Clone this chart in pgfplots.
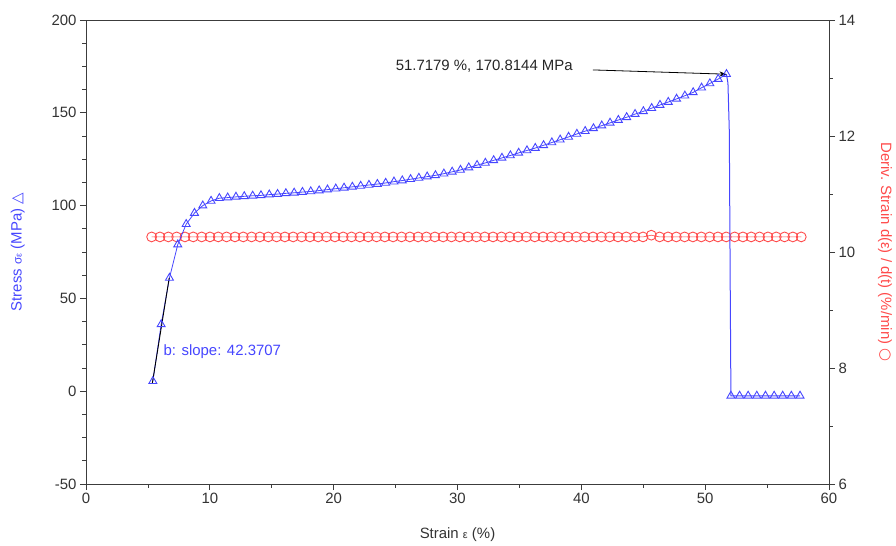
\documentclass[border=0pt]{standalone}
\usepackage{fontspec}
\setmainfont{Liberation Sans}
\newfontfamily\dejavu{DejaVu Sans}
\usepackage{pgfplots}
\usepackage{pgfplotstable}
\usetikzlibrary{arrows.meta}
\pgfplotsset{compat=1.18}
\definecolor{bl}{RGB}{70,70,255}
\definecolor{rd}{RGB}{255,75,75}
\definecolor{tk}{RGB}{51,51,51}
\definecolor{ax}{RGB}{60,60,60}

\pgfplotstableread{
x y
5.40 5.4
6.07 36
6.74 61
7.41 79
8.09 90
8.76 96
9.43 100
10.10 102.5
10.77 104
11.44 104.3
12.11 104.7
12.78 105.0
13.46 105.3
14.13 105.5
14.80 105.9
15.47 106.2
16.14 106.6
16.81 106.9
17.48 107.3
18.15 107.6
18.83 108.1
19.50 108.6
20.17 109.1
20.84 109.6
21.51 110.1
22.18 110.6
22.85 111.1
23.53 111.6
24.20 112.2
24.87 112.9
25.54 113.5
26.21 114.2
26.88 114.9
27.55 115.6
28.22 116.3
28.90 117.2
29.57 118.2
30.24 119.2
30.91 120.5
31.58 121.8
32.25 123.0
32.92 124.4
33.59 125.7
34.27 127.0
34.94 128.4
35.61 129.7
36.28 131.0
36.95 132.5
37.62 134.0
38.29 135.5
38.97 137.0
39.64 138.6
40.31 140.1
40.98 141.6
41.65 143.1
42.32 144.6
42.99 146.1
43.66 147.6
44.34 149.3
45.01 150.8
45.68 152.5
46.35 154.2
47.02 155.8
47.69 157.5
48.36 159.2
49.03 161.0
49.71 163.5
50.38 165.8
51.05 168.2
51.72 170.8
}\stress

\pgfplotstableread{
x y
51.72 170.8
51.84 166
51.95 140
52.02 60
52.08 -2.5
57.66 -2.5
}\drop

\pgfplotstableread{
x y
52.08 -2.5
52.78 -2.5
53.47 -2.5
54.17 -2.5
54.87 -2.5
55.57 -2.5
56.26 -2.5
56.96 -2.5
57.66 -2.5
}\bottom

\pgfplotstableread{
x y
5.30 10.26
5.97 10.26
6.65 10.26
7.32 10.26
7.99 10.26
8.66 10.26
9.34 10.26
10.01 10.26
10.68 10.26
11.35 10.26
12.03 10.26
12.70 10.26
13.37 10.26
14.04 10.26
14.72 10.26
15.39 10.26
16.06 10.26
16.73 10.26
17.41 10.26
18.08 10.26
18.75 10.26
19.42 10.26
20.10 10.26
20.77 10.26
21.44 10.26
22.11 10.26
22.79 10.26
23.46 10.26
24.13 10.26
24.80 10.26
25.48 10.26
26.15 10.26
26.82 10.26
27.49 10.26
28.17 10.26
28.84 10.26
29.51 10.26
30.18 10.26
30.86 10.26
31.53 10.26
32.20 10.26
32.87 10.26
33.55 10.26
34.22 10.26
34.89 10.26
35.56 10.26
36.24 10.26
36.91 10.26
37.58 10.26
38.25 10.26
38.93 10.26
39.60 10.26
40.27 10.26
40.94 10.26
41.62 10.26
42.29 10.26
42.96 10.26
43.63 10.26
44.31 10.26
44.98 10.26
45.65 10.29
46.32 10.26
47.00 10.26
47.67 10.26
48.34 10.26
49.01 10.26
49.69 10.26
50.36 10.26
51.03 10.26
51.70 10.26
52.38 10.26
53.05 10.26
53.72 10.26
54.39 10.26
55.07 10.26
55.74 10.26
56.41 10.26
57.08 10.26
57.76 10.26
}\deriv

\pgfplotsset{
  common/.style={
    at={(0,0)}, anchor=south west,
    scale only axis, width=743bp, height=464bp,
    xmin=0, xmax=60,
    tick align=outside,
    major tick length=6bp, minor tick length=3.5bp,
    every tick/.style={ax, line width=0.8bp},
    axis line style={ax, line width=0.9bp},
    tick label style={font=\fontsize{15}{17}\selectfont, text=tk},
    /pgf/number format/assume math mode=true,
  }
}

\begin{document}
\begin{tikzpicture}
\useasboundingbox (-86bp,-62bp) rectangle (810bp,484bp);
\begin{axis}[common,
  ymin=6, ymax=14,
  axis x line=none, axis y line*=right,
  ytick={6,8,10,12,14}, minor y tick num=1,
  ylabel={Deriv. Strain d(ε) / d(t) (\%/min) {\dejavu ○}},
  ylabel style={font=\fontsize{15}{17}\selectfont, text=rd, rotate=180,
    at={(axis description cs:1.0754,0.5)}, anchor=center},
]
\addplot[rd, line width=0.6bp, mark=o, mark size=4.9bp, mark options={line width=0.9bp, solid}] table[x=x,y=y] {\deriv};
\end{axis}
\begin{axis}[common,
  ymin=-50, ymax=200,
  ytick={-50,0,50,100,150,200}, minor y tick num=3,
  xtick={0,10,...,60}, minor x tick num=1,
  xtick pos=left, ytick pos=left,
  xlabel={Strain {\fontsize{11}{12}\selectfont ε} (\%)},
  xlabel style={font=\fontsize{15}{17}\selectfont, text=tk,
    at={(axis description cs:0.5,-0.11)}, anchor=center},
  ylabel={Stress {\fontsize{12}{13}\selectfont σ}{\fontsize{9}{10}\selectfont ε} (MPa) {\dejavu △}},
  ylabel style={font=\fontsize{15}{17}\selectfont, text=bl,
    at={(axis description cs:-0.092,0.5)}, anchor=center},
]
\addplot[bl, line width=0.8bp, mark=triangle, mark size=4.6bp, mark options={line width=0.9bp, solid}] table[x=x,y=y] {\stress};
\addplot[bl, line width=1bp, no marks] table[x=x,y=y] {\drop};
\addplot[bl, only marks, mark=triangle, mark size=4.6bp, mark options={line width=0.9bp}] table[x=x,y=y] {\bottom};
\addplot[black, line width=0.9bp, no marks] coordinates {(5.35,4) (6.72,61)};
\draw[black, line width=0.8bp, -{Stealth[length=7bp,width=5bp]}] (axis cs:40.94,173.1) -- (axis cs:51.72,170.8);
\node[anchor=west, inner sep=0pt, font=\fontsize{15}{17}\selectfont, text=black!85] at (axis cs:25.0,175.3) {51.7179 \%, 170.8144 MPa};
\node[anchor=west, inner sep=0pt, font=\fontsize{15}{17}\selectfont, text=bl] at (axis cs:6.25,21.5) {b: slope: 42.3707};
\end{axis}
\end{tikzpicture}
\end{document}
